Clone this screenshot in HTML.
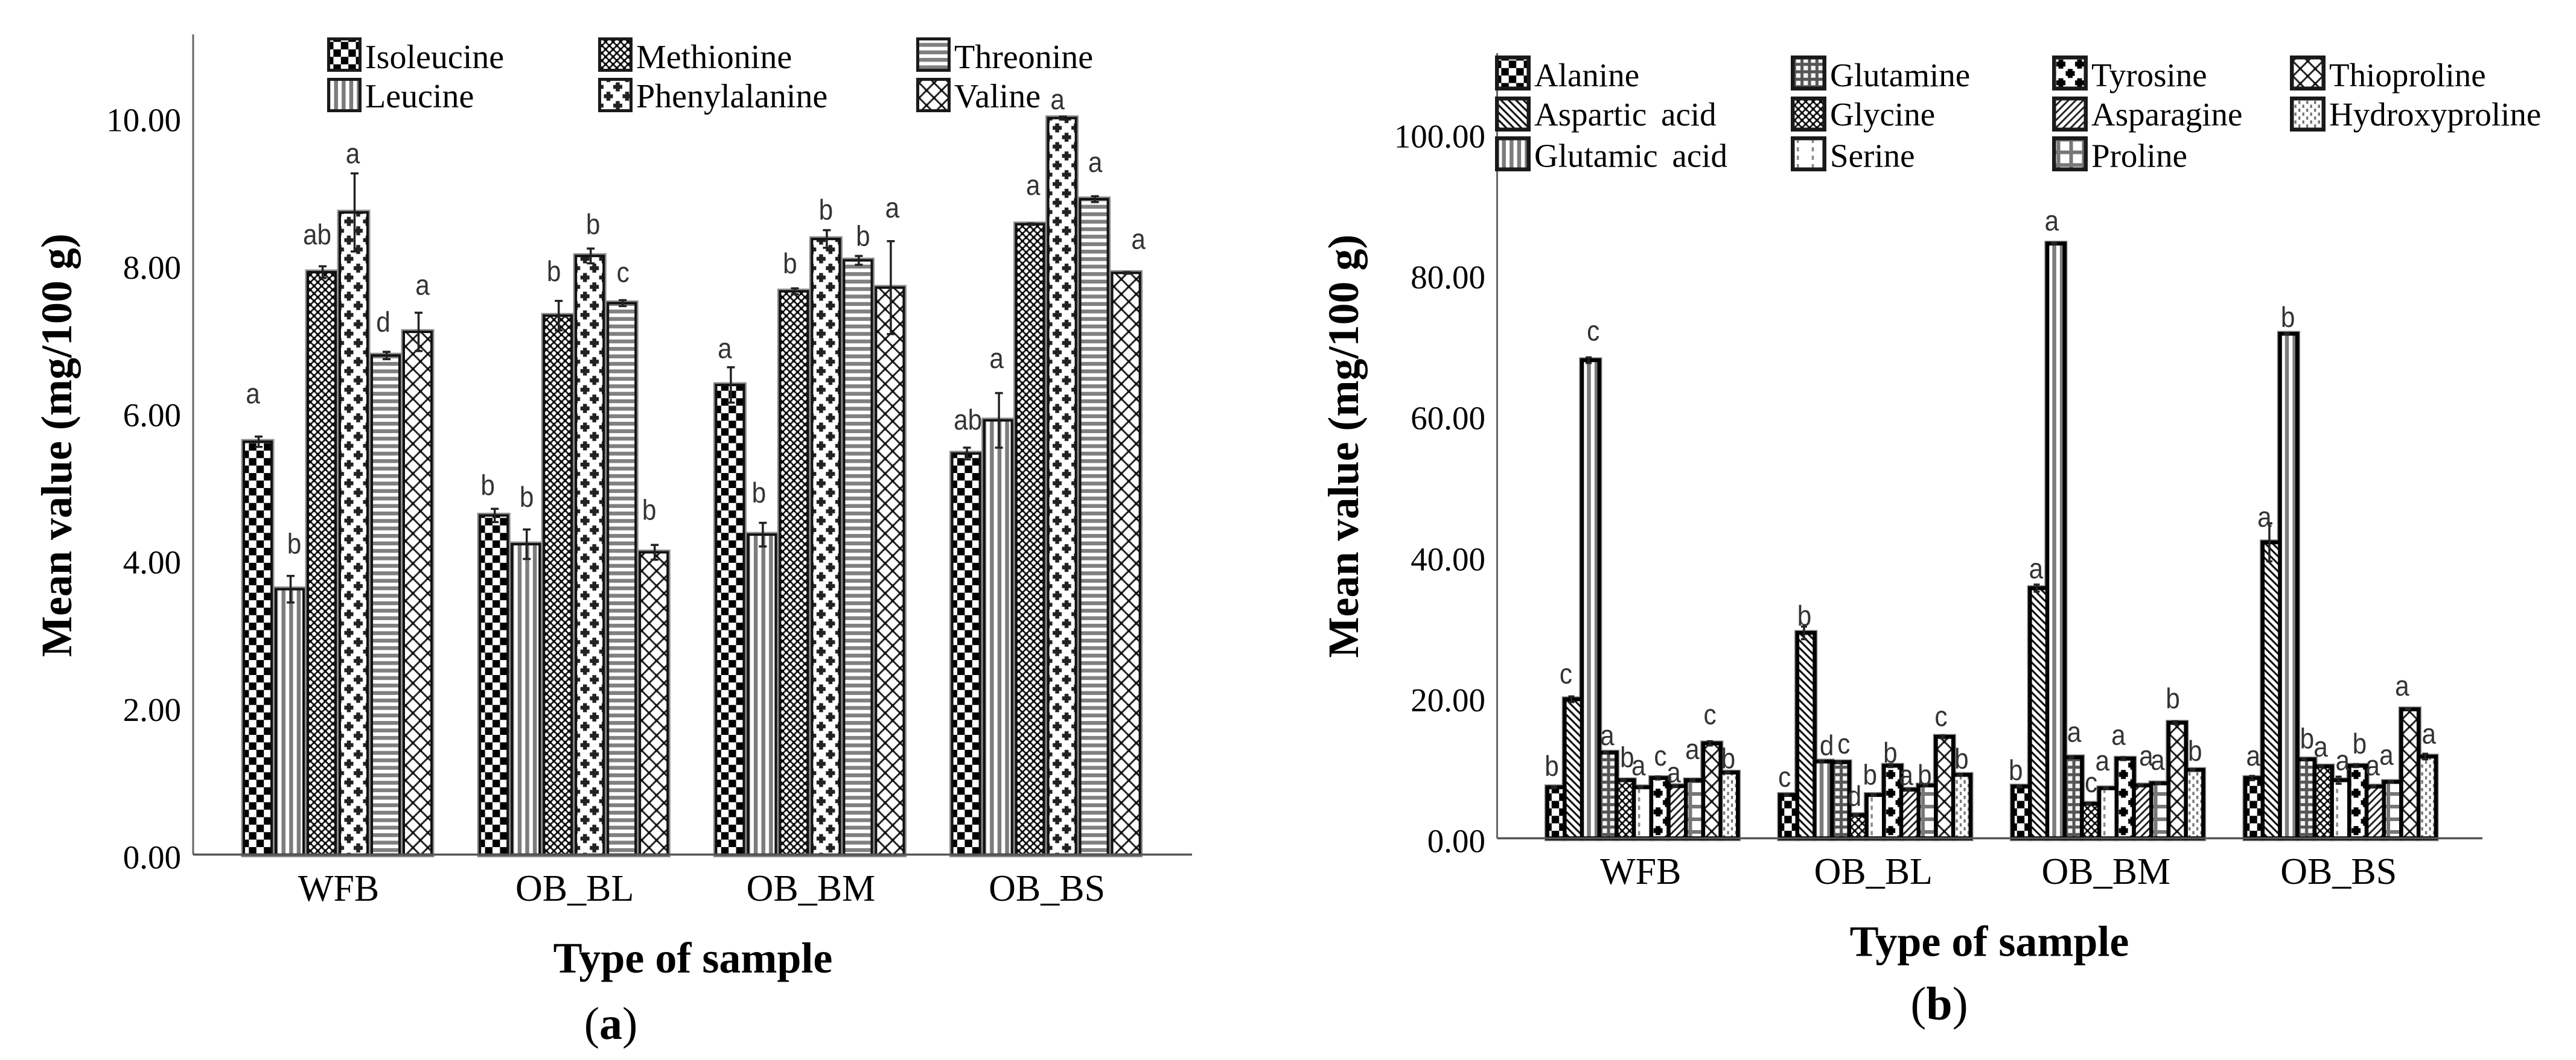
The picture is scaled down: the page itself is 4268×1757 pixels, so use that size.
<!DOCTYPE html>
<html lang="en">
<head>
<meta charset="utf-8">
<title>Mean amino acid values by sample type</title>
<style>
html,body{margin:0;padding:0;background:#fff;}
svg{display:block;}
.serif{font-family:"Liberation Serif",serif;fill:#000;}
.sans{font-family:"Liberation Sans",sans-serif;fill:#333;}
</style>
</head>
<body>
<svg id="figure" xmlns="http://www.w3.org/2000/svg" width="4268" height="1757" viewBox="0 0 4268 1757">
<defs id="pattern-defs">
<pattern id="p-checker" patternUnits="userSpaceOnUse" width="24.8" height="24.8"><rect width="24.8" height="24.8" fill="#fff"/><rect width="12.4" height="12.4" fill="#000"/><rect x="12.4" y="12.4" width="12.4" height="12.4" fill="#000"/></pattern>
<pattern id="p-vstripe" patternUnits="userSpaceOnUse" width="12.6" height="13"><rect width="12.6" height="13" fill="#fff"/><rect width="5.4" height="13" fill="#7c7c7c"/><rect x="11.5" width="1.1" height="13" fill="#7c7c7c"/></pattern>
<pattern id="p-fine-hatch" patternUnits="userSpaceOnUse" width="12.4" height="12.4"><rect width="12.4" height="12.4" fill="#fff"/><path d="M-1 -1L13.4 13.4M13.4 -1L-1 13.4" stroke="#222" stroke-width="2.8"/><rect x="3.9" y="3.9" width="4.6" height="4.6" fill="#000"/><rect x="-2.3" y="-2.3" width="4.6" height="4.6" fill="#000"/><rect x="10.1" y="-2.3" width="4.6" height="4.6" fill="#000"/><rect x="-2.3" y="10.1" width="4.6" height="4.6" fill="#000"/><rect x="10.1" y="10.1" width="4.6" height="4.6" fill="#000"/></pattern>
<pattern id="p-plus" patternUnits="userSpaceOnUse" width="31" height="31"><rect width="31" height="31" fill="#fff"/><path d="M7.75 .25V15.25M.25 7.75H15.25M23.25 15.75V30.75M15.75 23.25H30.75" stroke="#222" stroke-width="6.5"/></pattern>
<pattern id="p-hstripe" patternUnits="userSpaceOnUse" width="16" height="12.4"><rect width="16" height="12.4" fill="#fff"/><rect y="3" width="16" height="6.4" fill="#808080"/></pattern>
<pattern id="p-diamond" patternUnits="userSpaceOnUse" width="24.8" height="24.8"><rect width="24.8" height="24.8" fill="#fff"/><path d="M-1 -1L25.8 25.8M25.8 -1L-1 25.8" stroke="#222" stroke-width="3"/><rect x="9.9" y="9.9" width="5" height="5" fill="#111"/><rect x="-2.5" y="-2.5" width="5" height="5" fill="#111"/><rect x="22.3" y="-2.5" width="5" height="5" fill="#111"/><rect x="-2.5" y="22.3" width="5" height="5" fill="#111"/><rect x="22.3" y="22.3" width="5" height="5" fill="#111"/></pattern>
<pattern id="p-diag-back" patternUnits="userSpaceOnUse" width="12.4" height="12.4"><rect width="12.4" height="12.4" fill="#fff"/><path d="M-2 -2L14.4 14.4M-8.2 4.2L8.2 20.6M4.2 -8.2L20.6 8.2" stroke="#111" stroke-width="3.2"/></pattern>
<pattern id="p-fine-grid" patternUnits="userSpaceOnUse" width="12.4" height="12.4"><rect width="12.4" height="12.4" fill="#f4f4f4"/><path d="M6.2 0V12.4M0 6.2H12.4" stroke="#555" stroke-width="5"/></pattern>
<pattern id="p-dash" patternUnits="userSpaceOnUse" width="24.8" height="14"><rect width="24.8" height="14" fill="#fff"/><rect x="10" y="2" width="3.5" height="7" fill="#888"/></pattern>
<pattern id="p-heavy-plus" patternUnits="userSpaceOnUse" width="31" height="31"><rect width="31" height="31" fill="#fff"/><path d="M7.75 .25V15.25M.25 7.75H15.25M23.25 15.75V30.75M15.75 23.25H30.75" stroke="#000" stroke-width="8"/></pattern>
<pattern id="p-diag-fwd" patternUnits="userSpaceOnUse" width="12.4" height="12.4"><rect width="12.4" height="12.4" fill="#fff"/><path d="M14.4 -2L-2 14.4M8.2 -8.2L-8.2 8.2M20.6 4.2L4.2 20.6" stroke="#222" stroke-width="3"/></pattern>
<pattern id="p-wide-grid" patternUnits="userSpaceOnUse" width="21" height="21"><rect width="21" height="21" fill="#fff"/><path d="M10.5 0V21M0 10.5H21" stroke="#777" stroke-width="6"/></pattern>
<pattern id="p-stipple" patternUnits="userSpaceOnUse" width="13" height="13"><rect width="13" height="13" fill="#fff"/><rect x="1" y="1" width="3.4" height="5.5" fill="#777"/><rect x="7.5" y="7.5" width="3.4" height="5.5" fill="#777"/></pattern>
</defs>
</svg>
<script>
/* ---------- shared data ---------- */
const categories = ["WFB", "OB_BL", "OB_BM", "OB_BS"];

/* ---------- panel (a) data ---------- */
const seriesNamesA = ["Isoleucine", "Leucine", "Methionine", "Phenylalanine", "Threonine", "Valine"];
const tickLabelsA = ["0.00", "2.00", "4.00", "6.00", "8.00", "10.00"];
const isoleucineMean = [5.60, 4.60, 6.37, 5.44];
const leucineMean = [3.60, 4.21, 4.34, 5.89];
const methionineMean = [7.90, 7.31, 7.64, 8.55];
const phenylalanineMean = [8.71, 8.12, 8.35, 9.99];
const threonineMean = [6.77, 7.48, 8.06, 8.89];
const valineMean = [7.09, 4.10, 7.69, 7.89];
const isoleucineErr = [0.07, 0.09, 0.24, 0.08];
const leucineErr = [0.18, 0.20, 0.16, 0.37];
const methionineErr = [0.08, 0.20, 0.04, 0.01];
const phenylalanineErr = [0.53, 0.10, 0.12, 0.02];
const threonineErr = [0.05, 0.04, 0.06, 0.04];
const valineErr = [0.26, 0.10, 0.63, 0.01];
const isoleucineLetters = ["a", "b", "a", "ab"];
const leucineLetters = ["b", "b", "b", "a"];
const methionineLetters = ["ab", "b", "b", "a"];
const phenylalanineLetters = ["a", "b", "b", "a"];
const threonineLetters = ["d", "c", "b", "a"];
const valineLetters = ["a", "b", "a", "a"];

/* ---------- panel (b) data ---------- */
const seriesNamesB = ["Alanine", "Aspartic acid", "Glutamic acid", "Glutamine", "Glycine", "Serine", "Tyrosine", "Asparagine", "Proline", "Thioproline", "Hydroxyproline"];
const tickLabelsB = ["0.00", "20.00", "40.00", "60.00", "80.00", "100.00"];
const alanineMean = [7.24, 6.15, 7.35, 8.55];
const asparticMean = [19.73, 29.15, 35.5, 42.0];
const glutamicMean = [67.85, 10.9, 84.4, 71.6];
const glutamineMean = [12.16, 10.8, 11.5, 11.2];
const glycineMean = [8.24, 3.3, 4.9, 10.2];
const serineMean = [7.24, 6.15, 7.1, 8.24];
const tyrosineMean = [8.55, 10.3, 11.3, 10.3];
const asparagineMean = [7.4, 6.9, 7.5, 7.35];
const prolineMean = [8.24, 7.5, 7.8, 8.0];
const thioprolineMean = [13.47, 14.4, 16.4, 18.3];
const hydroxyprolineMean = [9.33, 9.0, 9.7, 11.6];
const alanineErr = [0.1, 0.1, 0.1, 0.3];
const asparticErr = [0.4, 0.9, 0.5, 2.7];
const glutamicErr = [0.4, 0.1, 0.1, 0.1];
const glutamineErr = [0.1, 0.1, 0.1, 0.1];
const glycineErr = [0.1, 0.1, 0.1, 0.1];
const serineErr = [0.1, 0.1, 0.1, 0.5];
const tyrosineErr = [0.2, 0.2, 0.2, 0.2];
const asparagineErr = [0.1, 0.1, 0.1, 0.1];
const prolineErr = [0.1, 0.1, 0.1, 0.1];
const thioprolineErr = [0.3, 0.2, 0.2, 0.1];
const hydroxyprolineErr = [0.1, 0.1, 0.1, 0.4];
const alanineLetters = ["b", "c", "b", "a"];
const asparticLetters = ["c", "b", "a", "a"];
const glutamicLetters = ["c", "d", "a", "b"];
const glutamineLetters = ["a", "c", "a", "b"];
const glycineLetters = ["b", "d", "c", "a"];
const serineLetters = ["a", "b", "a", "a"];
const tyrosineLetters = ["c", "b", "a", "b"];
const asparagineLetters = ["a", "a", "a", "a"];
const prolineLetters = ["a", "b", "a", "a"];
const thioprolineLetters = ["c", "c", "b", "a"];
const hydroxyprolineLetters = ["b", "b", "b", "a"];

/* ---------- layout only (no data values below) ---------- */
const nudgeA = [
  [[-9.5,-76],[6,-76],[-9,-63],[-3,-94],[-5.5,-56],[6.5,-74]],
  [[-11.5,-51],[0,-79],[-8,-74],[4,-53],[0.5,-47],[-9,-71]],
  [[-10,-57],[-6.5,-70],[-8,-47],[-1.5,-49],[7,-41],[2.5,-128.5]],
  [[1.5,-56.5],[-4,-99],[3.5,-61],[-9,-27],[0.5,-57.6],[19,-52]]
];
const nudgeB = [
  [[-3.7,-36],[-9,-38.5],[7.5,-44.5],[2,-24.5],[6.3,-38.5],[-3.5,-32],[4,-33],[-2.6,-19],[-0.5,-47.6],[0,-44],[1.7,-24]],
  [[-3.6,-26],[0.6,-29],[9,-27],[8.5,-26.5],[-2.6,-32],[-5.5,-34],[-0.5,-22],[-3,-20],[-1,-18],[-2.6,-30],[2.7,-27.3]],
  [[-6,-27.7],[-1,-28.5],[-3.7,-34],[4.7,-37.8],[4,-31.4],[-6,-41.7],[-8,-35.4],[9.2,-45],[-0.5,-34.8],[-4,-41],[4,-32]],
  [[2,-33],[-8,-38],[2,-28],[5,-35],[-1,-28.6],[6.5,-29],[6,-37],[-1,-30.7],[-7,-41],[-9.6,-35],[6,-33.6]]
];
const patternPhase = {
  "p-checker": [-2, 0],
  "p-plus": [9.25, -3.25],
  "p-hstripe": [0, -1.2],
  "p-diamond": [4.8, 1],
  "p-heavy-plus": [6.75, 10.5]
};

const panelA = {
  key: "a",
  names: seriesNamesA,
  means: [isoleucineMean, leucineMean, methionineMean, phenylalanineMean, threonineMean, valineMean],
  errs: [isoleucineErr, leucineErr, methionineErr, phenylalanineErr, threonineErr, valineErr],
  letters: [isoleucineLetters, leucineLetters, methionineLetters, phenylalanineLetters, threonineLetters, valineLetters],
  nudge: nudgeA,
  fills: ["p-checker", "p-vstripe", "p-fine-hatch", "p-plus", "p-hstripe", "p-diamond"],
  ticks: tickLabelsA,
  axisX: 320, axisTop: 57, axisEnd: 1975, baseY: 1416.5, perUnit: 122.2,
  groupStart: 402, groupStep: 391.2, barW: 53,
  barStroke: 4, barStrokeColor: "#111", barInset: 7, haloExtra: 5,
  tickRight: 300, tickFont: 55,
  catBase: 1493, titleYX: 118, titleYC: 738, titleXC: 1148, titleXBase: 1612,
  panelLabelX: 1012, panelLabelBase: 1722, panelLabelFont: 76, panelLabel: "a",
  legendCols: [542, 991, 1518], legendRows: [62, 129], legendRowBases: [113, 178],
  swatchW: 57, swatchH: 57, swatchStroke: 5, legendPerCol: 2, legendFont: 56, letterFont: 47, capW: 13
};
const panelB = {
  key: "b",
  names: seriesNamesB,
  means: [alanineMean, asparticMean, glutamicMean, glutamineMean, glycineMean, serineMean, tyrosineMean, asparagineMean, prolineMean, thioprolineMean, hydroxyprolineMean],
  errs: [alanineErr, asparticErr, glutamicErr, glutamineErr, glycineErr, serineErr, tyrosineErr, asparagineErr, prolineErr, thioprolineErr, hydroxyprolineErr],
  letters: [alanineLetters, asparticLetters, glutamicLetters, glutamineLetters, glycineLetters, serineLetters, tyrosineLetters, asparagineLetters, prolineLetters, thioprolineLetters, hydroxyprolineLetters],
  nudge: nudgeB,
  fills: ["p-checker", "p-diag-back", "p-vstripe", "p-fine-grid", "p-fine-hatch", "p-dash", "p-heavy-plus", "p-diag-fwd", "p-wide-grid", "p-diamond", "p-stipple"],
  ticks: tickLabelsB,
  axisX: 2480.5, axisTop: 88, axisEnd: 4113, baseY: 1389.5, perUnit: 11.68,
  groupStart: 2560.4, groupStep: 385.5, barW: 28.7,
  barStroke: 6.5, barStrokeColor: "#000", barInset: 0, haloExtra: 3,
  tickRight: 2461, tickFont: 55,
  catBase: 1465, titleYX: 2250, titleYC: 739.5, titleXC: 3296, titleXBase: 1584.5,
  panelLabelX: 3213, panelLabelBase: 1690, panelLabelFont: 78, panelLabel: "b",
  legendCols: [2477, 2967, 3400, 3794], legendRows: [92, 160, 226], legendRowBases: [143, 208, 276.7],
  swatchW: 59, swatchH: 58, swatchStroke: 6.5, legendPerCol: 3, legendFont: 55, letterFont: 47, capW: 10
};

const NS = "http://www.w3.org/2000/svg";
const root = document.getElementById("figure");
const defs = document.getElementById("pattern-defs");
let patternCount = 0;

function make(tag, attrs, parent) {
  const node = document.createElementNS(NS, tag);
  for (const k in attrs) node.setAttribute(k, attrs[k]);
  parent.appendChild(node);
  return node;
}

/* each mark gets a copy of its hatch anchored to its own left edge and bottom */
function anchoredFill(base, left, bottom) {
  const phase = patternPhase[base] || [0, 0];
  const id = "a" + (patternCount++);
  make("pattern", {
    id: id,
    href: "#" + base,
    patternTransform: "translate(" + (left + phase[0]) + " " + (bottom + phase[1]) + ")"
  }, defs);
  return "url(#" + id + ")";
}

function drawPanel(p) {
  const g = make("g", {}, root);
  
  

  const yOf = v => p.baseY - v * p.perUnit;
  const xOfBar = (c, s) => p.groupStart + c * p.groupStep + p.barW * (s + 0.5);
  const groupW = p.barW * p.names.length;

  /* soft grey edge beneath the bars */
  p.names.forEach((name, s) => {
    categories.forEach((cat, c) => {
      const v = p.means[s][c], left = xOfBar(c, s) - p.barW / 2;
      const edge = make("rect", {
        x: left + p.barStroke / 2,
        y: yOf(v),
        width: p.barW - p.barInset,
        height: p.baseY - yOf(v),
        fill: "none",
        stroke: "#8c8c8c",
        "stroke-width": p.barStroke + p.haloExtra
      }, g);
      
      
    });
  });

  /* bars */
  p.names.forEach((name, s) => {
    categories.forEach((cat, c) => {
      const v = p.means[s][c], left = xOfBar(c, s) - p.barW / 2;
      const bar = make("rect", {
        x: left + p.barStroke / 2,
        y: yOf(v),
        width: p.barW - p.barInset,
        height: p.baseY - yOf(v),
        fill: anchoredFill(p.fills[s], left, p.baseY),
        stroke: p.barStrokeColor,
        "stroke-width": p.barStroke
      }, g);
      
      
    });
  });

  /* error bars */
  p.names.forEach((name, s) => {
    categories.forEach((cat, c) => {
      const v = p.means[s][c], e = p.errs[s][c], x = xOfBar(c, s);
      const top = yOf(v + e), bot = yOf(v - e);
      const err = make("path", {
        d: "M" + x + " " + top + "V" + bot + "M" + (x - p.capW / 2) + " " + top + "H" + (x + p.capW / 2) + "M" + (x - p.capW / 2) + " " + bot + "H" + (x + p.capW / 2),
        fill: "none", stroke: "#222", "stroke-width": 3.5
      }, g);
      
      
    });
  });

  /* axes */
  const yAxis = make("line", {x1: p.axisX, x2: p.axisX, y1: p.axisTop, y2: p.baseY, stroke: "#666", "stroke-width": 3}, g);
  
  
  const xAxis = make("line", {x1: p.axisX, x2: p.axisEnd, y1: p.baseY, y2: p.baseY, stroke: "#555", "stroke-width": 3.5}, g);
  
  

  /* y ticks */
  p.ticks.forEach(label => {
    const t = make("text", {class: "serif", x: p.tickRight, y: yOf(parseFloat(label)) + 23, "text-anchor": "end", "font-size": p.tickFont}, g);
    t.textContent = label;
    
    
  });

  /* category labels */
  categories.forEach((cat, c) => {
    const t = make("text", {class: "serif", x: p.groupStart + c * p.groupStep + groupW / 2, y: p.catBase, "text-anchor": "middle", "font-size": 62}, g);
    t.textContent = cat;
    
    
  });

  /* significance letters */
  p.names.forEach((name, s) => {
    categories.forEach((cat, c) => {
      const letter = p.letters[s][c];
      const n = p.nudge[c][s];
      const drop = /[bd]/.test(letter) ? p.letterFont * 0.36 : p.letterFont * 0.26;
      const lx = xOfBar(c, s) + n[0], ly = yOf(p.means[s][c]) + n[1] + drop;
      const t = make("text", {class: "sans", transform: "translate(" + lx + " " + ly + ") scale(.9 1)", "text-anchor": "middle", "font-size": p.letterFont}, g);
      t.textContent = letter;
      
      
    });
  });

  /* axis titles */
  const yt = make("text", {class: "serif", x: p.titleYX, y: p.titleYC, transform: "rotate(-90 " + p.titleYX + " " + p.titleYC + ")", "text-anchor": "middle", "font-size": 72, "font-weight": "bold"}, g);
  yt.textContent = "Mean value (mg/100 g)";
  
  
  const xt = make("text", {class: "serif", x: p.titleXC, y: p.titleXBase, "text-anchor": "middle", "font-size": 72, "font-weight": "bold"}, g);
  xt.textContent = "Type of sample";
  
  

  /* panel label */
  const pl = make("text", {class: "serif", x: p.panelLabelX, y: p.panelLabelBase, "text-anchor": "middle", "font-size": p.panelLabelFont}, g);
  pl.appendChild(document.createTextNode("("));
  const bold = make("tspan", {"font-weight": "bold"}, pl);
  bold.textContent = p.panelLabel;
  pl.appendChild(document.createTextNode(")"));
  
  

  /* legend */
  const legend = make("g", {}, g);
  
  
  p.names.forEach((name, s) => {
    const col = Math.floor(s / p.legendPerCol), row = s % p.legendPerCol;
    const sx = p.legendCols[col], sy = p.legendRows[row];
    const entry = make("g", {}, legend);
    
    
    const hw = p.swatchStroke / 2;
    const sw = make("rect", {
      x: sx + hw, y: sy + hw, width: p.swatchW - p.swatchStroke, height: p.swatchH - p.swatchStroke,
      fill: anchoredFill(p.fills[s], sx, sy + p.swatchH), stroke: "#1a1a1a", "stroke-width": p.swatchStroke
    }, entry);
    
    
    const t = make("text", {class: "serif", x: sx + p.swatchW + 6, y: p.legendRowBases[row], "font-size": p.legendFont, "word-spacing": 10}, entry);
    t.textContent = name;
    
    
  });
}

drawPanel(panelA);
drawPanel(panelB);
</script>
</body>
</html>
